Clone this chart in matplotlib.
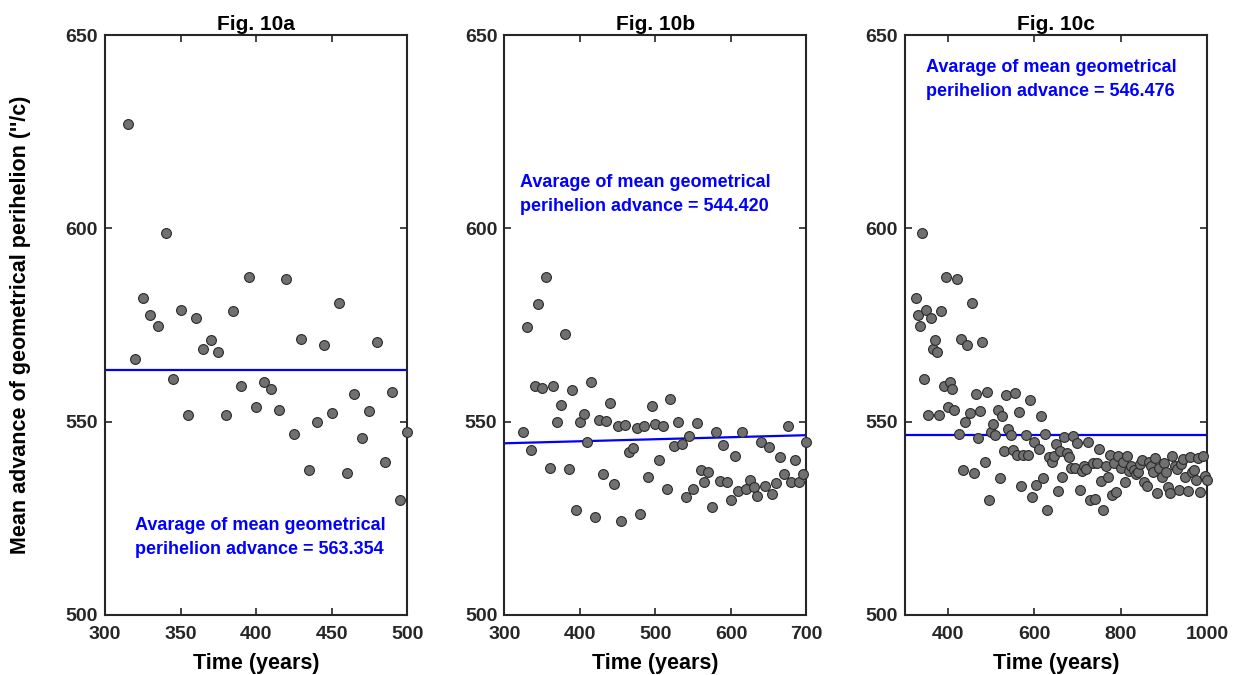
import matplotlib
matplotlib.use("Agg")
import matplotlib.pyplot as plt

plt.rcParams['font.family'] = ['Liberation Sans', 'DejaVu Sans']
plt.rcParams['font.weight'] = 'bold'

# ---------------- data ----------------
years_a = [315, 320, 325, 330, 335, 340, 345, 350, 355, 360, 365, 370, 375, 380,
           385, 390, 395, 400, 405, 410, 415, 420, 425, 430, 435, 440, 445, 450,
           455, 460, 465, 470, 475, 480, 485, 490, 495, 500]
values_a = [627.1, 566.3, 582.0, 577.7, 574.8, 598.9, 561.1, 578.8, 551.8, 576.8,
            568.9, 571.0, 568.0, 551.8, 578.6, 559.1, 587.4, 553.9, 560.2, 558.4,
            552.9, 586.9, 546.7, 571.4, 537.6, 550.0, 569.8, 552.2, 580.6, 536.6,
            557.2, 545.7, 552.7, 570.6, 539.6, 557.6, 529.8, 547.4]
mean_a = 563.354

years_b = list(range(325, 705, 5))
values_b = [547.4, 574.6, 542.7, 559.1, 580.4, 558.8, 587.4, 538.1, 559.1, 550.0,
            554.4, 572.7, 537.8, 558.1, 527.1, 549.8, 552.1, 544.7, 560.3, 525.4,
            550.3, 536.4, 550.2, 554.7, 533.8, 548.9, 524.2, 549.1, 542.2, 543.2,
            548.4, 526.2, 548.9, 535.7, 554.1, 549.5, 540.0, 549.0, 532.6, 555.9,
            543.6, 549.8, 544.2, 530.5, 546.3, 532.7, 549.6, 537.6, 534.5, 537.1,
            527.8, 547.4, 534.7, 544.0, 534.5, 529.7, 541.2, 532.0, 547.3, 532.7,
            535.0, 533.0, 530.7, 544.7, 533.3, 543.5, 531.3, 534.1, 540.9, 536.5,
            548.9, 534.3, 540.0, 534.3, 536.4, 544.7]
mean_b = 544.420
trend_b_x = [300, 700]
trend_b_y = [544.4, 546.5]

years_c = list(range(325, 1005, 5))
values_c = [582.0, 577.7, 574.8, 598.9, 561.1, 578.8, 551.8, 576.8, 568.9, 571.0,
            568.0, 551.8, 578.6, 559.1, 587.4, 553.9, 560.2, 558.4, 552.9, 586.9,
            546.7, 571.4, 537.6, 550.0, 569.8, 552.2, 580.6, 536.6, 557.2, 545.7,
            552.7, 570.6, 539.6, 557.6, 529.8, 547.4,
            549.5, 546.6, 553.1, 535.3, 551.4, 542.3, 556.9, 548.2, 546.5, 542.7,
            557.4, 541.4, 552.5, 533.3, 541.4, 546.6, 541.4, 555.7, 530.5, 544.8,
            533.7, 542.8, 551.5, 535.5, 546.7, 527.2, 540.8, 539.5, 541.0, 544.3,
            532.0, 542.5, 535.7, 546.0, 542.0, 540.8, 538.0, 546.4, 538.0, 544.6,
            532.4, 537.3, 538.5, 537.8, 544.7, 529.7, 539.2, 530.1, 539.2, 543.0,
            534.6, 527.1, 538.6, 535.6, 541.4, 530.9, 539.2, 531.7, 541.0, 537.9,
            539.5, 534.5, 541.2, 537.3, 538.5, 537.5, 536.5, 537.1, 539.0, 540.0,
            534.3, 533.3, 539.5, 538.6, 537.1, 540.5, 531.6, 538.0, 535.6, 539.2,
            537.0, 533.2, 531.6, 541.0, 538.5, 537.8, 532.2, 539.0, 540.4, 535.6,
            532.0, 540.8, 537.0, 537.4, 535.0, 540.5, 531.8, 541.0, 536.0, 535.0]
mean_c = 546.476

titles = ["Fig. 10a", "Fig. 10b", "Fig. 10c"]
xlims = [(300, 500), (300, 700), (300, 1000)]
xticks = [[300, 350, 400, 450, 500], [300, 400, 500, 600, 700], [400, 600, 800, 1000]]
yticks = [500, 550, 600, 650]
notes = ["Avarage of mean geometrical\nperihelion advance = 563.354",
         "Avarage of mean geometrical\nperihelion advance = 544.420",
         "Avarage of mean geometrical\nperihelion advance = 546.476"]
note_pos = [(320, 520), (321, 608.8), (349, 638.6)]

# ---------------- figure ----------------
fig = plt.figure(figsize=(12.36, 6.75), dpi=100)
lefts = [0.085, 0.408, 0.732]
axes = [fig.add_axes([l, 0.089, 0.2445, 0.859]) for l in lefts]

data = [(years_a, values_a), (years_b, values_b), (years_c, values_c)]
spine_col = '#262626'
for i, ax in enumerate(axes):
    xs, ys = data[i]
    ax.scatter(xs, ys, s=50, facecolor='#707070', edgecolor='#2a2a2a',
               linewidths=0.8, zorder=3, clip_on=False)
    if i == 0:
        ax.plot(xlims[0], [mean_a, mean_a], color='#0000ff', lw=1.6, zorder=2)
    elif i == 1:
        ax.plot(trend_b_x, trend_b_y, color='#0000ff', lw=1.6, zorder=2)
    else:
        ax.plot(xlims[2], [mean_c, mean_c], color='#0000ff', lw=1.6, zorder=2)
    ax.text(note_pos[i][0], note_pos[i][1], notes[i], color='#0000ff',
            fontsize=13, fontweight='bold', ha='left', va='center',
            linespacing=1.55, zorder=4)
    ax.set_xlim(*xlims[i])
    ax.set_ylim(500, 650)
    ax.set_xticks(xticks[i])
    ax.set_yticks(yticks)
    ax.tick_params(direction='in', length=5, width=1.2, top=True, right=True,
                   labelsize=14, color=spine_col)
    ax.tick_params(axis='x', pad=8)
    ax.tick_params(axis='y', pad=5)
    for lab in ax.get_xticklabels() + ax.get_yticklabels():
        lab.set_fontweight('bold')
        lab.set_color('#262626')
    for sp in ax.spines.values():
        sp.set_linewidth(1.5)
        sp.set_color(spine_col)
    ax.set_title(titles[i], fontsize=15, fontweight='bold', pad=4)
    ax.set_xlabel("Time (years)", fontsize=15.5, fontweight='bold', labelpad=7)

axes[0].set_ylabel("Mean advance of geometrical perihelion (''/c)",
                   fontsize=15.5, fontweight='bold')
axes[0].yaxis.set_label_coords(-0.245, 0.5)

fig.savefig("out.png", dpi=100, facecolor='white')
